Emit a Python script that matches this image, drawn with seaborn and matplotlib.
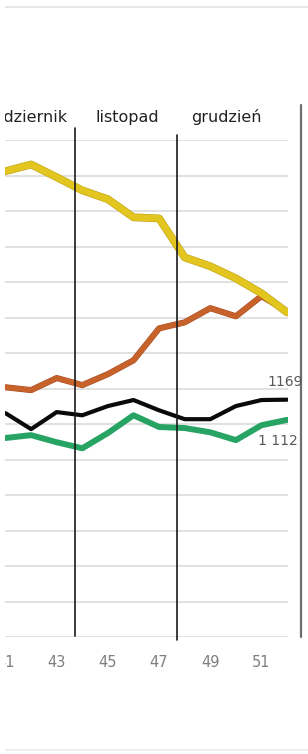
import pandas as pd
import matplotlib.pyplot as plt
import matplotlib.patheffects as pe
from matplotlib.lines import Line2D
from matplotlib.patches import Rectangle
import seaborn as sns

# tygodnie 41-52 (wycinek wykresu)
tygodnie = [41, 42, 43, 44, 45, 46, 47, 48, 49, 50, 51, 52]
zolta = [1813, 1832, 1796, 1759, 1734, 1683, 1680, 1570, 1545, 1511, 1469, 1415]
pomaranczowa = [1204, 1196, 1230, 1210, 1241, 1280, 1370, 1387, 1427, 1404, 1461, 1418]
czarna = [1131, 1086, 1134, 1125, 1151, 1168, 1139, 1114, 1114, 1151, 1168, 1169]
zielona = [1061, 1069, 1049, 1032, 1075, 1125, 1092, 1089, 1077, 1055, 1097, 1112]

miesiace = ['październik', 'listopad', 'grudzień']
etykiety_x = ['41', '43', '45', '47', '49', '51']

sns.set_theme(style='white')
plt.rcParams['font.family'] = ['DejaVu Sans']

fig = plt.figure(figsize=(3.08, 7.54), dpi=100)
ax = fig.add_axes([5 / 308, (754 - 637) / 754, 283 / 308, 497 / 754])

df = pd.DataFrame({'tydzien': tygodnie, 'zolta': zolta, 'pomaranczowa': pomaranczowa,
                   'czarna': czarna, 'zielona': zielona})

styl = dict(solid_joinstyle='round', solid_capstyle='round')
sns.lineplot(data=df, x='tydzien', y='zielona', ax=ax, color='#27A464', linewidth=4.3, **styl)
sns.lineplot(data=df, x='tydzien', y='czarna', ax=ax, color='#0A0A0A', linewidth=3.0, **styl)
sns.lineplot(data=df, x='tydzien', y='pomaranczowa', ax=ax, color='#C8622B', linewidth=3.6,
             path_effects=[pe.Stroke(linewidth=4.4, foreground='#A84E22'), pe.Normal()], **styl)
sns.lineplot(data=df, x='tydzien', y='zolta', ax=ax, color='#E2C51E', linewidth=4.8,
             path_effects=[pe.Stroke(linewidth=5.6, foreground='#BFA212'), pe.Normal()], **styl)

ax.set_xlim(40.98, 52.035)
ax.set_ylim(500, 1901)
ax.set_yticks(range(500, 2000, 100))
ax.yaxis.grid(True, color='#D9D9D9', linewidth=1.1)
ax.xaxis.grid(False)
ax.set_xticks([int(t) for t in etykiety_x])
ax.set_xticklabels(etykiety_x)
ax.tick_params(axis='x', length=0, pad=13, labelsize=10.5, labelcolor='#7F7F7F')
ax.tick_params(axis='y', left=False, labelleft=False)
ax.set_xlabel('')
ax.set_ylabel('')
for s in ax.spines.values():
    s.set_visible(False)

# granice miesięcy
ax.axvline(43.71, ymin=0.002, ymax=1.024, color='#1A1A1A', linewidth=1.2, clip_on=False)
ax.axvline(47.70, ymin=-0.006, ymax=1.010, color='#1A1A1A', linewidth=1.2, clip_on=False)
ax.axvline(52.54, ymin=0.0, ymax=1.070, color='#6E6E6E', linewidth=1.6, clip_on=False)

ym = 1.046
ax.text(43.42, ym, miesiace[0], transform=ax.get_xaxis_transform(), ha='right', va='center',
        fontsize=11.5, color='#222222')
ax.text(45.75, ym, miesiace[1], transform=ax.get_xaxis_transform(), ha='center', va='center',
        fontsize=11.5, color='#222222')
ax.text(49.61, ym, miesiace[2], transform=ax.get_xaxis_transform(), ha='center', va='center',
        fontsize=11.5, color='#222222')

# etykiety danych ostatniego tygodnia
ax.annotate(f'{czarna[-1]}', (tygodnie[-1], czarna[-1]), xytext=(-14, 13), textcoords='offset points',
            ha='left', va='center', fontsize=10, color='#595959', annotation_clip=False)
ax.annotate(f'{zielona[-1]:,}'.replace(',', ' '), (tygodnie[-1], zielona[-1]), xytext=(-21, -15),
            textcoords='offset points', ha='left', va='center', fontsize=10, color='#595959',
            annotation_clip=False)

# ramka wycinka (biały margines z lewej, cienkie linie góra/dół)
fig.add_artist(Rectangle((0, 0), 5 / 308, 1, transform=fig.transFigure, facecolor='white',
                         edgecolor='none', zorder=10))
fig.add_artist(Line2D([0.016, 1], [1 - 7 / 754, 1 - 7 / 754], color='#E3E3E3', linewidth=1.2))
fig.add_artist(Line2D([0.016, 1], [4 / 754, 4 / 754], color='#EBEBEB', linewidth=1.2))

fig.savefig('out.png', dpi=100)
